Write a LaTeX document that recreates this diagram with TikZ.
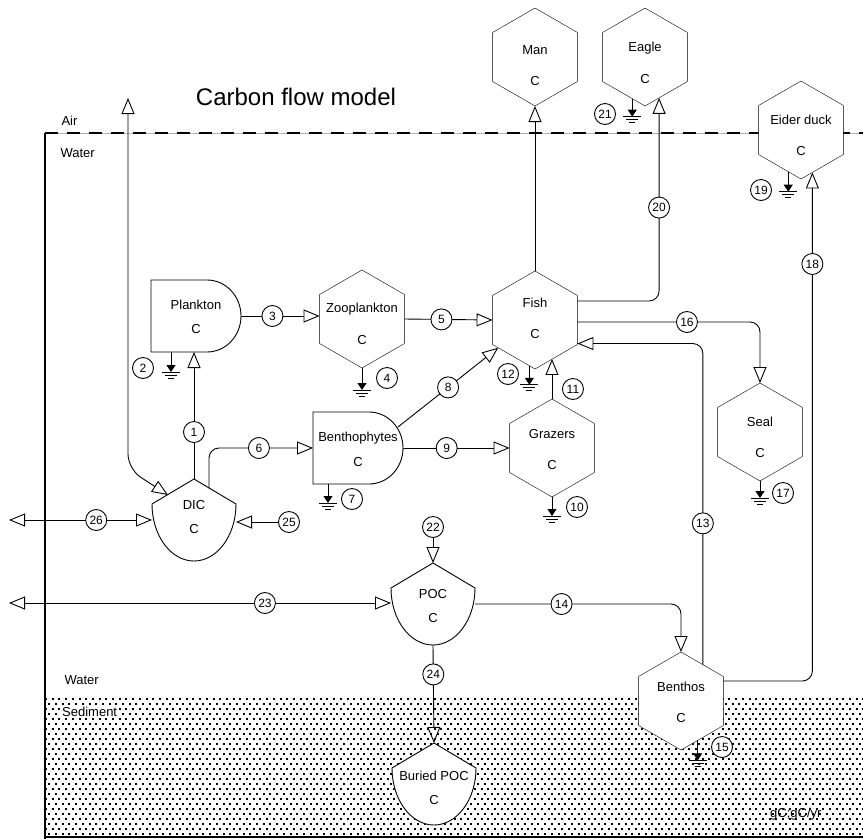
\documentclass[tikz,border=0pt]{standalone}
\usepackage{fontspec}
\setmainfont{Liberation Sans}
\usetikzlibrary{arrows.meta, calc, shapes.geometric, positioning}

\tikzset{
  every node/.style={font=\fontsize{13}{15}\selectfont},
  pool/.style 2 args={regular polygon, regular polygon sides=6, shape border rotate=30,
    minimum size=98pt, inner sep=0pt, outer sep=0pt, draw, fill=white,
    label={[yshift=#2]center:#1}, label={[yshift=#2-31pt]center:C}},
  store/.style 2 args={rectangle, minimum width=84pt, minimum height=82pt, inner sep=0pt,
    outer sep=0pt, label={[yshift=#2]center:#1}, label={[yshift=#2-24pt]center:C}},
  flow/.style={draw, line width=0.9pt, -{Triangle[open, length=16pt, width=13pt]}},
  both/.style={draw, line width=0.9pt,
    {Triangle[open, length=16pt, width=13pt]}-{Triangle[open, length=16pt, width=13pt]}},
  sinkarrow/.style={line width=0.9pt, -{Triangle[length=7pt, width=9pt]}},
  num/.style={circle, draw, fill=white, line width=0.9pt, minimum size=21pt, inner sep=0pt,
    font=\fontsize{12}{12}\selectfont},
  dots/.style={line width=2pt, dash pattern=on 2pt off 4.7pt}
}

% tank: name, position, label, label shift
\newcommand{\tank}[4]{%
  \draw[line width=0.9pt, fill=white] ($(#2)+(0,-41)$) -- ++(-42,25)
    arc[start angle=180, end angle=0, x radius=42, y radius=57] -- cycle;
  \node[store={#3}{#4}] (#1) at (#2) {};}
% producer: name, position, label, label shift
\newcommand{\producer}[4]{%
  \draw[line width=0.9pt, fill=white] ($(#2)+(-45,-36)$) -- ++(56,0)
    arc[start angle=-90, end angle=90, x radius=34, y radius=36] -- ++(-56,0) -- cycle;
  \node[store={#3}{#4}, minimum width=90pt, minimum height=72pt] (#1) at (#2) {};}
% sink with ground
\newcommand{\sink}[2]{%
  \draw[sinkarrow] (#1) -- ++(0,#2) coordinate (gnd);
  \draw[line width=0.9pt] (gnd) ++(-9,0) -- ++(18,0) (gnd) ++(-6,3) -- ++(12,0)
    (gnd) ++(-3,6) -- ++(6,0);}

\begin{document}
\begin{tikzpicture}[x=1pt, y=-1pt]
  \useasboundingbox (0,0) rectangle (863,839);

  % sediment
  \foreach \r in {0,...,13}{
    \draw[dots] (45,699+10*\r) -- (863,699+10*\r);
    \draw[dots, dash phase=3.35pt] (45,704+10*\r) -- (863,704+10*\r);
  }
  % air / water
  \draw[black!30, line width=0.8pt] (45,133) -- (863,133);
  \draw[line width=2.5pt, dash pattern=on 13pt off 9pt] (45,133) -- (863,133);
  \draw[line width=2pt] (45,133) -- (45,839);
  \draw[line width=2pt] (45,837) -- (863,837);

  \node[font=\fontsize{24}{28}\selectfont] (title) at (296,97) {Carbon flow model};
  \node[anchor=west] (tair) at (58,121) {Air};
  \node[anchor=west] (twater) at (57,153) {Water};
  \node[anchor=west] (twater2) at (61,680) {Water};
  \node[anchor=west, fill=white, inner sep=1pt] (tsed) at (61,712) {Sediment};
  \node[anchor=east] (tunit) at (825,814) {gC;gC/yr};

  % pools
  \node[pool={Man}{7pt}] (man) at (535,57) {};
  \node[pool={Eagle}{9pt}] (eagle) at (645,57) {};
  \node[pool={Eider duck}{10pt}] (eider) at (801,130) {};
  \node[pool={Fish}{17pt}] (fish) at (535,320) {};
  \node[pool={Zooplankton}{10pt}] (zoo) at (362,319) {};
  \node[pool={Grazers}{14pt}] (grazers) at (552,448) {};
  \node[pool={Seal}{10pt}] (seal) at (760,432) {};
  \node[pool={Benthos}{14pt}] (benthos) at (681,701) {};

  \producer{plankton}{196,316}{Plankton}{11pt}
  \producer{benthoph}{358,448}{Benthophytes}{10pt}
  \tank{dic}{194,520}{DIC}{15pt}
  \tank{poc}{433,604}{POC}{10pt}
  \tank{buried}{434,784}{Buried POC}{8pt}

  % flows
  \coordinate (air) at (128,98);
  \coordinate (bend) at (128,469);
  \draw[both, rounded corners=15pt] (air) -- (bend) -- ($(dic.north)+(-26,16)$);
  \draw[flow] (dic.north) -- (dic.north |- plankton.south) node[num, pos=0.37] {1};
  \draw[flow] (plankton.east) -- (plankton.east -| zoo.west) node[num, pos=0.4] {3};
  \draw[flow] (zoo.east) -- (fish.west) node[num, pos=0.42] {5};
  \draw[flow, rounded corners=10pt] ($(dic.north)+(15,9)$) |- (benthoph.west)
    node[num, pos=0.74] {6};
  \draw[flow] ($(benthoph.center)+(40,-21)$) -- (fish.217) node[num, pos=0.5] {8};
  \draw[flow] (benthoph.east) -- (grazers.west) node[num, pos=0.41] {9};
  \draw[flow] (grazers.north) -- (grazers.north |- fish.-66)
    node[num, pos=0.25, right=10pt] {11};
  \draw[flow] (fish.north) -- (man.south);
  \draw[flow, rounded corners=10pt] ($(fish.east)+(0,-19)$) -| (eagle.-71)
    node[num, pos=0.73] {20};
  \draw[flow, rounded corners=10pt] ($(fish.east)+(0,2)$) -| (seal.north)
    node[num, pos=0.3] {16};
  \draw[flow, rounded corners=10pt] (benthos.59) |- (fish.-29) node[num, pos=0.22] {13};
  \draw[flow, rounded corners=10pt] (poc.east) -| (benthos.north) node[num, pos=0.21] {14};
  \draw[flow, rounded corners=10pt] ($(benthos.east)+(0,-20)$) -| (eider.-75)
    node[num, pos=0.91] {18};
  \node[num] (n22) at (433,527) {22};
  \draw[flow] (n22) -- (poc.north);
  \draw[flow] (poc.south) -- (buried.north) node[num, pos=0.3] {24};
  \node[num] (n25) at (289,522) {25};
  \draw[flow] (n25) -- (n25 -| dic.east);
  \coordinate (out26) at (9,520);
  \coordinate (out23) at (9,603);
  \draw[both] (out26) -- (out26 -| dic.west) node[num, pos=0.61] {26};
  \draw[both] (out23) -- (out23 -| poc.west) node[num, pos=0.67] {23};

  % sinks
  \sink{$(plankton.south west)+(20,0)$}{20}
  \sink{zoo.south}{22}
  \sink{$(benthoph.south west)+(15,0)$}{19}
  \sink{grazers.south}{19}
  \sink{fish.-97}{19}
  \sink{seal.south}{17}
  \sink{benthos.-67}{20}
  \sink{eider.-107}{20}
  \sink{eagle.-107}{18}
  \node[num] (n2) at (143,368) {2};
  \node[num] (n4) at (387,378) {4};
  \node[num] (n7) at (352,499) {7};
  \node[num] (n10) at (577,507) {10};
  \node[num] (n12) at (508,374) {12};
  \node[num] (n15) at (722,747) {15};
  \node[num] (n17) at (783,493) {17};
  \node[num] (n19) at (761,190) {19};
  \node[num] (n21) at (605,114) {21};
\end{tikzpicture}
\end{document}
